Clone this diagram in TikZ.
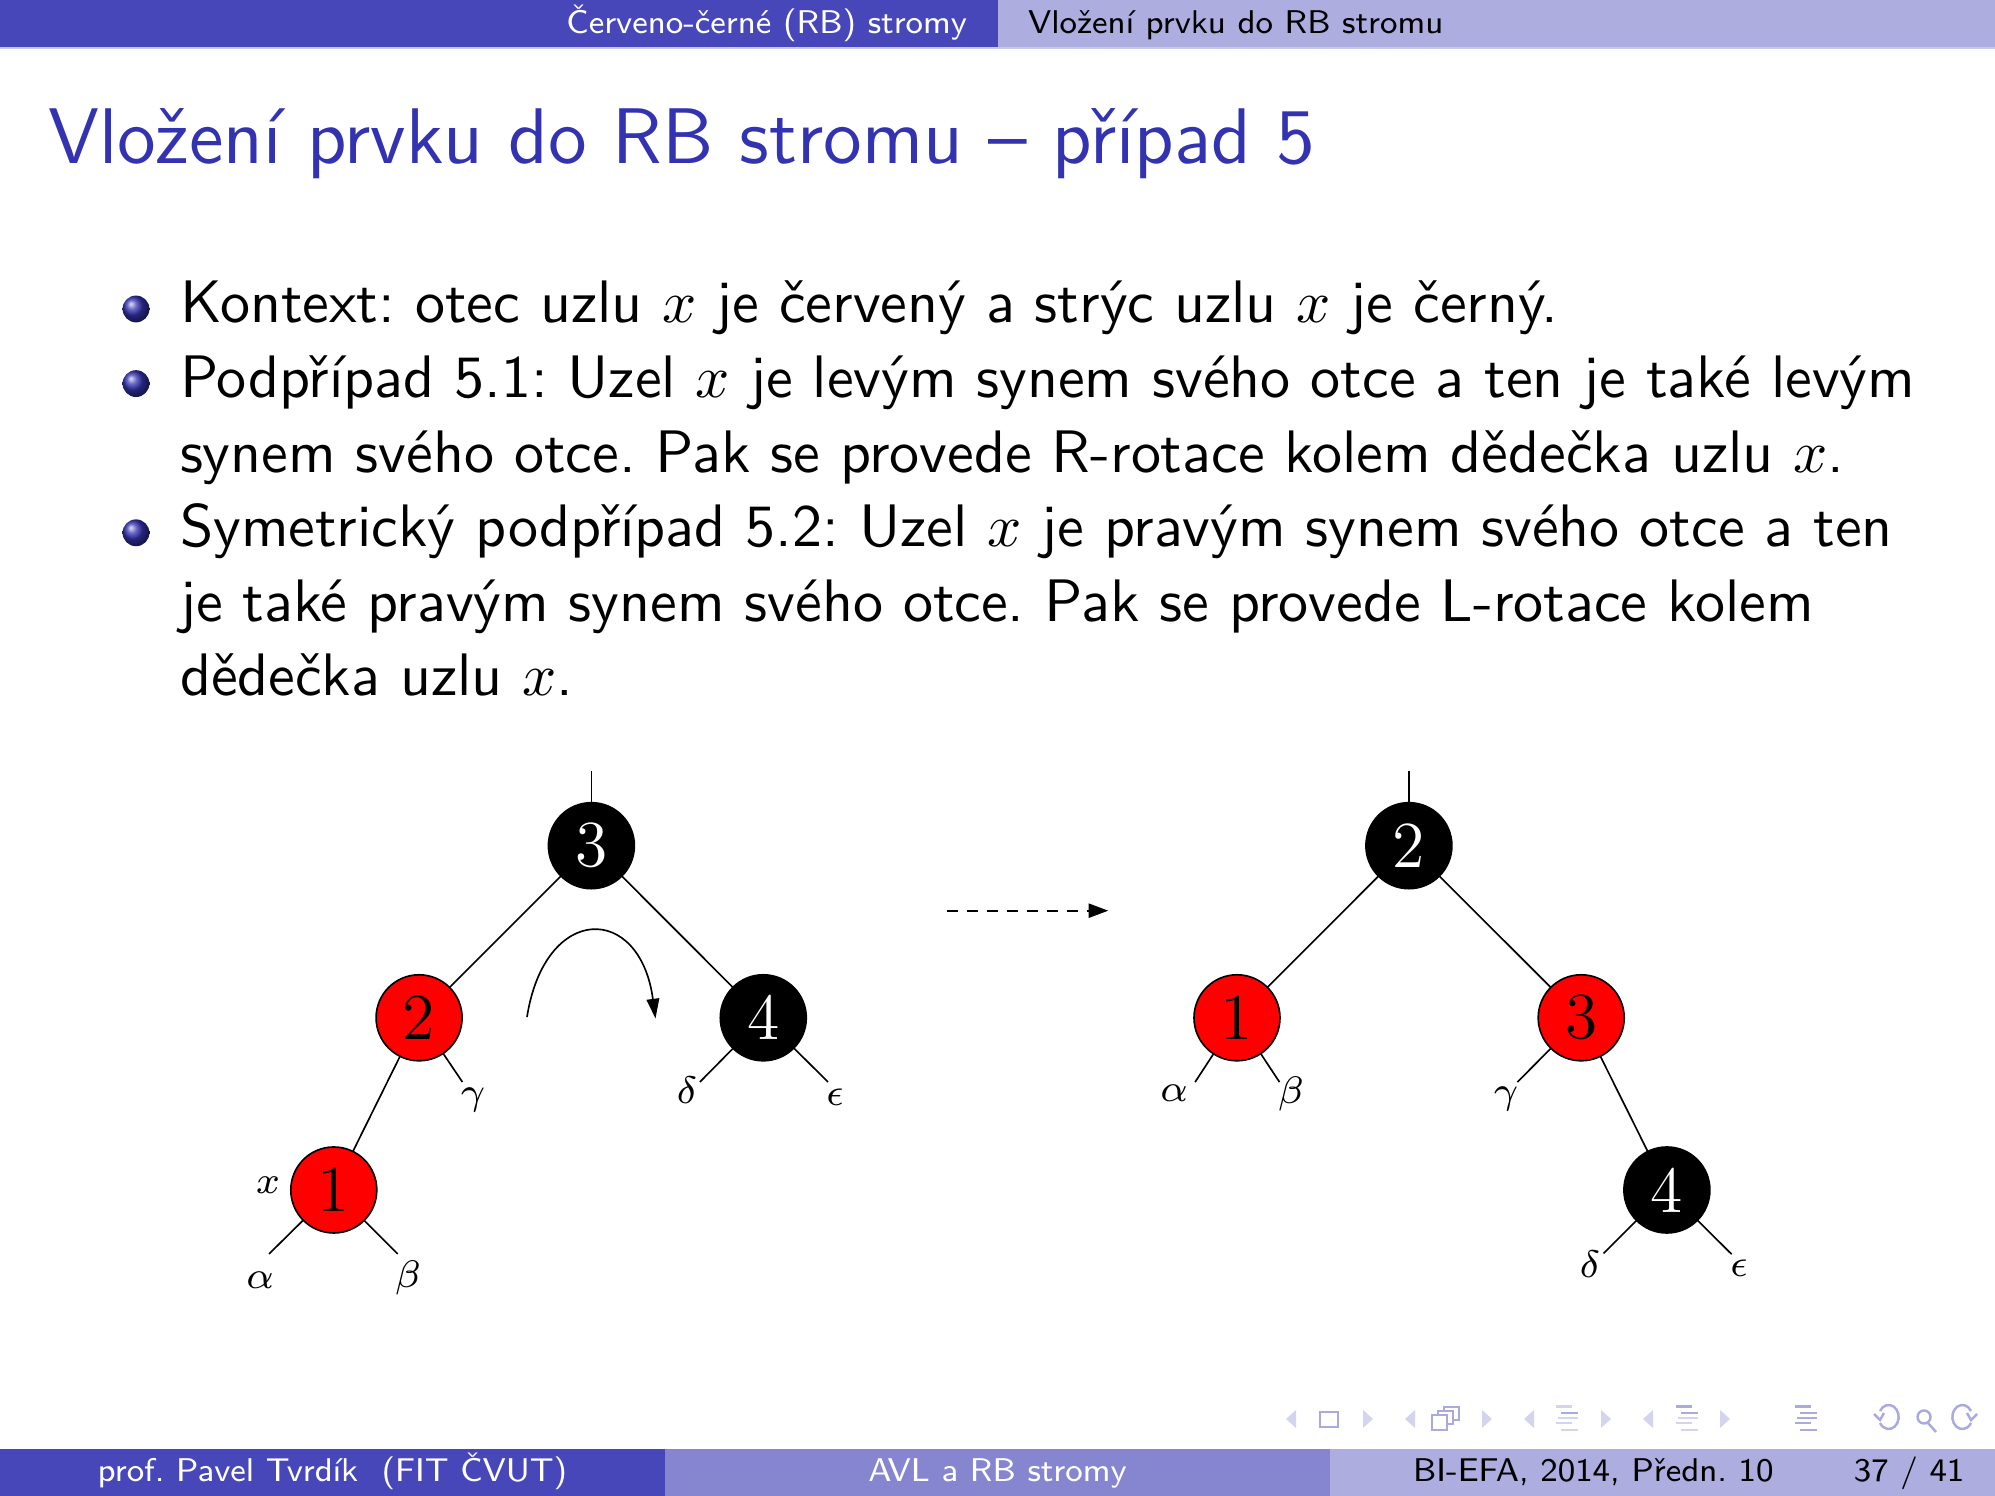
\documentclass[tikz,border=0pt]{standalone}
\usetikzlibrary{arrows.meta}

% slide palette
\definecolor{struct}{RGB}{51,51,178}
\definecolor{barA}{RGB}{71,71,186}
\definecolor{barB}{RGB}{133,133,208}
\definecolor{barC}{RGB}{173,173,224}
\definecolor{navA}{RGB}{170,170,222}
\definecolor{navB}{RGB}{212,212,238}

\frenchspacing

\begin{document}
\begin{tikzpicture}[x=0.06416mm,y=-0.06416mm,
  every node/.style={inner sep=0pt, outer sep=0pt},
  barfont/.style={font=\fontsize{6}{7}\selectfont\sffamily},
  bodyline/.style={font=\fontsize{10.95}{13.6}\selectfont\sffamily, anchor=base west},
  rbnode/.style={circle, minimum size=15.7pt, draw=black, line width=0.3pt,
                 font=\fontsize{12}{14}\selectfont},
  rednode/.style={rbnode, fill=red, text=black},
  blknode/.style={rbnode, fill=black, text=white},
  treeline/.style={line width=0.3pt},
  leaflabel/.style={font=\fontsize{7}{8}\selectfont, anchor=base},
  navtri/.style={fill=navB},
  navicon/.style={draw=navA, line width=0.45pt},
]
\useasboundingbox (0,0) rectangle (1995,1496);

% ---------- headline ----------
\fill[barA] (0,0) rectangle (997.5,47);
\fill[barC] (997.5,0) rectangle (1995,47);
\fill[barB!45!white] (0,47) rectangle (1995,49);
\node[barfont, anchor=base east, text=white] (sec) at (967,34) {Červeno-černé (RB) stromy};
\node[barfont, anchor=base west, text=black] (subsec) at (1028,34) {Vložení prvku do RB stromu};

% ---------- frame title ----------
\node[anchor=base west, text=struct, font=\fontsize{14.4}{18}\selectfont\sffamily]
  (title) at (48,164) {Vložení prvku do RB stromu – případ 5};

% ---------- itemize ----------
\foreach \yy in {309,383.6,532.8}
  \shade[ball color=struct] (136,\yy) circle (2.45pt);
\node[bodyline] (l1) at (180,323)   {Kontext: otec uzlu $x$ je červený a strýc uzlu $x$ je černý.};
\node[bodyline] (l2) at (180,397.6) {Podpřípad 5.1: Uzel $x$ je levým synem svého otce a ten je také levým};
\node[bodyline] (l3) at (180,472.2) {synem svého otce. Pak se provede R-rotace kolem dědečka uzlu $x$.};
\node[bodyline] (l4) at (180,546.8) {Symetrický podpřípad 5.2: Uzel $x$ je pravým synem svého otce a ten};
\node[bodyline] (l5) at (180,621.4) {je také pravým synem svého otce. Pak se provede L-rotace kolem};
\node[bodyline] (l6) at (180,696)   {dědečka uzlu $x$.};

% ---------- tree before rotation ----------
\node[blknode] (a3) at (591.4,845.7) {3};
\node[rednode] (a2) at (419.1,1017.8) {2};
\node[blknode] (a4) at (763.3,1017.8) {4};
\node[rednode] (a1) at (333.8,1190) {1};
\coordinate (atop) at (591.4,770.7);
\coordinate (agam) at (462.4,1082);
\coordinate (adel) at (699.9,1082);
\coordinate (aeps) at (828,1082);
\coordinate (aalp) at (269,1254);
\coordinate (abet) at (397.7,1254);
\draw[treeline] (a3) -- (atop);
\draw[treeline] (a3) -- (a2);
\draw[treeline] (a3) -- (a4);
\draw[treeline] (a2) -- (a1);
\draw[treeline] (a2) -- (agam);
\draw[treeline] (a4) -- (adel);
\draw[treeline] (a4) -- (aeps);
\draw[treeline] (a1) -- (aalp);
\draw[treeline] (a1) -- (abet);
\node[leaflabel] (tgam) at (473,1105) {$\gamma$};
\node[leaflabel] (tdel) at (687,1104) {$\delta$};
\node[leaflabel] (teps) at (835,1106) {$\epsilon$};
\node[leaflabel] (talp) at (260,1289) {$\alpha$};
\node[leaflabel] (tbet) at (408,1288) {$\beta$};
\node[leaflabel] (tx)   at (268,1194) {$x$};

% rotation arrow
\coordinate (rotA) at (527,1017);
\coordinate (rotB) at (655.5,1018.5);
\draw[treeline, -{Triangle[length=3.6pt,width=2.3pt]}]
  (rotA) .. controls (545,903) and (640,903) .. (rotB);

% transition arrow
\coordinate (goA) at (947,910.7);
\coordinate (goB) at (1108.3,910.7);
\draw[treeline, dash pattern=on 1.95pt off 1.7pt, -{Triangle[length=3.6pt,width=2.6pt]}]
  (goA) -- (goB);

% ---------- tree after rotation ----------
\node[blknode] (b2) at (1408.9,845.7) {2};
\node[rednode] (b1) at (1237,1017.8) {1};
\node[rednode] (b3) at (1581.2,1017.8) {3};
\node[blknode] (b4) at (1666.9,1190) {4};
\coordinate (btop) at (1408.9,770.7);
\coordinate (balp) at (1195.1,1082.1);
\coordinate (bbet) at (1279.5,1082.1);
\coordinate (bgam) at (1517.4,1082.1);
\coordinate (bdel) at (1603.5,1253.5);
\coordinate (beps) at (1731.6,1254.2);
\draw[treeline] (b2) -- (btop);
\draw[treeline] (b2) -- (b1);
\draw[treeline] (b2) -- (b3);
\draw[treeline] (b3) -- (b4);
\draw[treeline] (b1) -- (balp);
\draw[treeline] (b1) -- (bbet);
\draw[treeline] (b3) -- (bgam);
\draw[treeline] (b4) -- (bdel);
\draw[treeline] (b4) -- (beps);
\node[leaflabel] (ualp) at (1174,1102) {$\alpha$};
\node[leaflabel] (ubet) at (1291,1104) {$\beta$};
\node[leaflabel] (ugam) at (1506,1104) {$\gamma$};
\node[leaflabel] (udel) at (1590,1278) {$\delta$};
\node[leaflabel] (ueps) at (1739,1277) {$\epsilon$};

% ---------- navigation symbols ----------
% frame
\fill[navtri] (1296,1410) -- (1286,1419) -- (1296,1428) -- cycle;
\draw[navicon] (1320,1412) rectangle (1338,1427);
\fill[navtri] (1363,1410) -- (1373,1419) -- (1363,1428) -- cycle;
% frames
\fill[navtri] (1415,1410) -- (1405,1419) -- (1415,1428) -- cycle;
\draw[navicon, fill=white] (1444,1407) rectangle (1459,1420);
\draw[navicon, fill=white] (1438,1411) rectangle (1453,1424);
\draw[navicon, fill=white] (1432,1415) rectangle (1447,1430);
\fill[navtri] (1482,1410) -- (1492,1419) -- (1482,1428) -- cycle;
% subsection
\fill[navtri] (1534,1410) -- (1524,1419) -- (1534,1428) -- cycle;
\fill[navB] (1556,1405.5) rectangle (1572,1408);
\fill[navA] (1561,1412) rectangle (1578,1414.5);
\fill[navB] (1558,1417) rectangle (1578,1419.5);
\fill[navB] (1556,1422) rectangle (1572,1424.5);
\fill[navB] (1561,1429) rectangle (1578,1431.5);
\fill[navtri] (1601,1410) -- (1611,1419) -- (1601,1428) -- cycle;
% section
\fill[navtri] (1653,1410) -- (1643,1419) -- (1653,1428) -- cycle;
\fill[navA] (1676,1405.5) rectangle (1692,1408);
\fill[navA] (1681,1412) rectangle (1698,1414.5);
\fill[navB] (1678,1417) rectangle (1698,1419.5);
\fill[navB] (1676,1422) rectangle (1692,1424.5);
\fill[navB] (1681,1429) rectangle (1698,1431.5);
\fill[navtri] (1720,1410) -- (1730,1419) -- (1720,1428) -- cycle;
% document
\fill[navA] (1795,1405.5) rectangle (1811,1408);
\fill[navA] (1800,1412) rectangle (1817,1414.5);
\fill[navA] (1797,1417) rectangle (1817,1419.5);
\fill[navA] (1795,1422) rectangle (1811,1424.5);
\fill[navA] (1800,1429) rectangle (1817,1431.5);
% back, search, forward
\draw[navicon] (1880,1411) arc[start angle=150, end angle=-150, x radius=10, y radius=-12];
\draw[navicon] (1874,1414) -- (1880,1420) -- (1884,1413);
\draw[navicon] (1924,1417) circle (6.5);
\draw[navicon] (1928,1423) -- (1936,1432);
\draw[navicon] (1971,1411) arc[start angle=30, end angle=330, x radius=10, y radius=-12];
\draw[navicon] (1977,1414) -- (1971,1420) -- (1967,1413);

% ---------- footline ----------
\fill[barA] (0,1449) rectangle (665,1496);
\fill[barB] (665,1449) rectangle (1330,1496);
\fill[barC] (1330,1449) rectangle (1995,1496);
\node[barfont, anchor=base, text=white] (auth) at (332.5,1482) {prof.~Pavel Tvrdík~~(FIT ČVUT)};
\node[barfont, anchor=base, text=white] (short) at (997.5,1482) {AVL a RB stromy};
\node[barfont, anchor=base east, text=black] (date) at (1773.6,1482) {BI-EFA, 2014, Předn. 10};
\node[barfont, anchor=base east, text=black] (page) at (1964.4,1482) {37 / 41};
\end{tikzpicture}
\end{document}
